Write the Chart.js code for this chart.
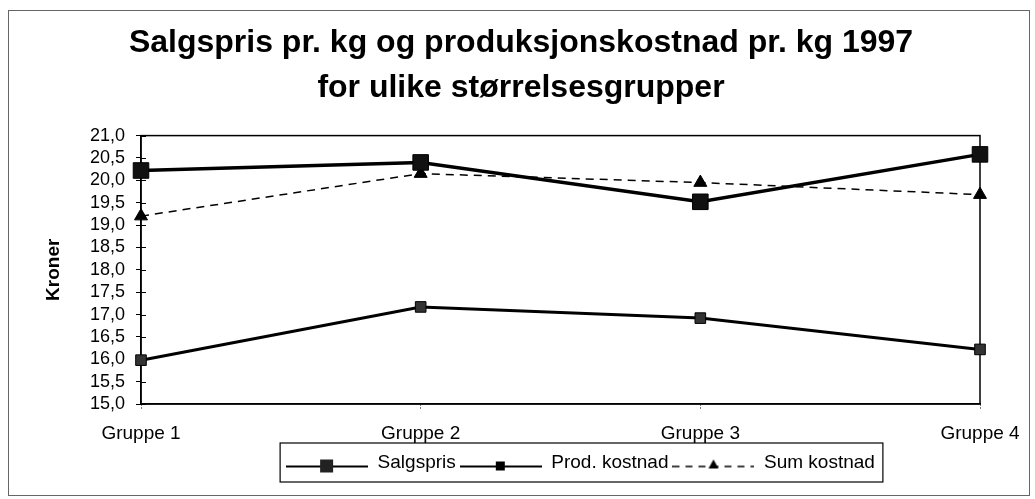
<!DOCTYPE html>
<html>
<head>
<meta charset="utf-8">
<script src="https://cdn.jsdelivr.net/npm/chart.js@4.4.1/dist/chart.umd.min.js"></script>
<style>
html,body{margin:0;padding:0;background:#fff;}
#wrap{width:1035px;height:499px;}
</style>
</head>
<body>
<div id="wrap"><canvas id="kgChart" width="1035" height="499"></canvas></div>
<script>
/* DATA */
const groups=["Gruppe 1","Gruppe 2","Gruppe 3","Gruppe 4"];
const salgspris=[20.22,20.4,19.52,20.58];
const prodKostnad=[15.98,17.17,16.92,16.22];
const sumKostnad=[19.2,20.15,19.95,19.68];
const yTicks=[15,15.5,16,16.5,17,17.5,18,18.5,19,19.5,20,20.5,21];
const seriesNames=["Salgspris","Prod. kostnad","Sum kostnad"];

const FONT="'Liberation Sans', Arial, sans-serif";

/* legend samples: line with marker in the middle */
function sample(kind){
    let c=document.createElement("canvas");
    c.width=82; c.height=24;
    let g=c.getContext("2d");
    g.strokeStyle="#000";
    g.fillStyle="#000";
    let ly=16;
    if(kind==="dash"){
        g.lineWidth=1.5;
        g.setLineDash([7,6]);
    }else{
        g.lineWidth=2;
    }
    g.beginPath(); g.moveTo(0,ly); g.lineTo(82,ly); g.stroke();
    g.setLineDash([]);
    if(kind==="big"){
        g.fillStyle="#222"; g.fillRect(34,ly-7,13,13);
    }else if(kind==="small"){
        g.fillRect(36,ly-5,9,9);
    }else{
        g.beginPath(); g.moveTo(41,ly-7); g.lineTo(46,ly+2); g.lineTo(36,ly+2); g.closePath(); g.fill();
    }
    return c;
}
const samples=[sample("big"),sample("small"),sample("dash")];

/* FRAME + PLOT BOX */
const decor={
    id:"decor",
    afterLayout(chart){
        // legend sits a bit right of the plot centre in the original
        chart.legend.left+=20;
        chart.legend.right+=20;
    },
    beforeDraw(chart){
        let c=chart.ctx;
        c.save();
        c.fillStyle="#fff";
        c.fillRect(0,0,chart.width,chart.height);
        c.strokeStyle="#666";
        c.lineWidth=1;
        c.strokeRect(8.5,10.5,1021,485);
        c.restore();
    },
    beforeDatasetsDraw(chart){
        let c=chart.ctx, a=chart.chartArea;
        c.save();
        c.strokeStyle="#000";
        c.lineWidth=1.5;
        c.strokeRect(a.left,a.top,a.right-a.left,a.bottom-a.top);
        let y=chart.scales.y;
        c.lineWidth=1;
        y.ticks.forEach(t=>{
            let py=Math.round(y.getPixelForValue(t.value))+0.5;
            c.beginPath(); c.moveTo(a.left,py); c.lineTo(a.left+5,py); c.stroke();
        });
        c.restore();
    },
    afterDraw(chart){
        let boxes=chart.legend.legendHitBoxes;
        if(!boxes||!boxes.length) return;
        let c=chart.ctx;
        let l=boxes[0].left-6;
        let last=boxes[boxes.length-1];
        let r=last.left+last.width+8;
        let t=boxes[0].top-10;
        let b=boxes[0].top+boxes[0].height+10;
        c.save();
        c.strokeStyle="#000";
        c.lineWidth=1.2;
        c.strokeRect(l,t,r-l,b-t);
        c.restore();
    }
};

new Chart(
document.getElementById("kgChart"),
{
    type:"line",
    data:{
        labels:groups,
        datasets:[{
            label:seriesNames[0],
            data:salgspris,
            borderColor:"#000",
            borderWidth:3.5,
            pointStyle:"rect",
            pointRadius:11,
            pointBackgroundColor:"#111",
            pointBorderColor:"#000",
            pointBorderWidth:1,
            clip:false
        },{
            label:seriesNames[1],
            data:prodKostnad,
            borderColor:"#000",
            borderWidth:3,
            pointStyle:"rect",
            pointRadius:7.5,
            pointBackgroundColor:"#333",
            pointBorderColor:"#000",
            pointBorderWidth:1,
            clip:false
        },{
            label:seriesNames[2],
            data:sumKostnad,
            borderColor:"#000",
            borderWidth:1.5,
            borderDash:[8,6],
            pointStyle:"triangle",
            pointRadius:7.5,
            pointBackgroundColor:"#000",
            pointBorderColor:"#000",
            pointBorderWidth:1,
            clip:false
        }]
    },
    options:{
        responsive:false,
        animation:false,
        devicePixelRatio:1,
        layout:{padding:{left:62,right:55,top:0,bottom:17}},
        plugins:{
            title:{
                display:true,
                text:["Salgspris pr. kg og produksjonskostnad pr. kg 1997","for ulike størrelsesgrupper"],
                color:"#000",
                font:{family:FONT,size:32,weight:"bold",lineHeight:1.4},
                padding:{top:21,bottom:25}
            },
            legend:{
                position:"bottom",
                fullSize:false,
                labels:{
                    color:"#000",
                    font:{family:FONT,size:19},
                    usePointStyle:true,
                    pointStyleWidth:82,
                    padding:4,
                    generateLabels(chart){
                        return Chart.defaults.plugins.legend.labels.generateLabels(chart).map((it,i)=>{
                            it.pointStyle=samples[i];
                            return it;
                        });
                    }
                }
            },
            tooltip:{enabled:false}
        },
        scales:{
            x:{
                offset:false,
                grid:{display:true,drawOnChartArea:false,drawTicks:true,tickLength:6,color:"#000",tickBorderDash:[1,2]},
                border:{display:true,color:"#000",width:1.5},
                ticks:{color:"#000",font:{family:FONT,size:19},padding:12,maxRotation:0},
                afterFit(s){ s.height=45; }
            },
            y:{
                min:15,
                max:21,
                grid:{display:true,drawOnChartArea:false,drawTicks:true,tickLength:5,color:"#000"},
                border:{display:true,color:"#000",width:1.5},
                afterBuildTicks(s){ s.ticks=yTicks.map(v=>({value:v})); },
                ticks:{
                    color:"#000",
                    font:{family:FONT,size:18},
                    padding:11,
                    autoSkip:false,
                    callback:v=>v.toFixed(1).replace(".",",")
                },
                title:{
                    display:true,
                    text:"Kroner",
                    color:"#000",
                    font:{family:FONT,size:19,weight:"bold"},
                    padding:{top:-20,bottom:0}
                },
                afterFit(s){ s.width=79; }
            }
        }
    },
    plugins:[decor]
});
</script>
</body>
</html>
